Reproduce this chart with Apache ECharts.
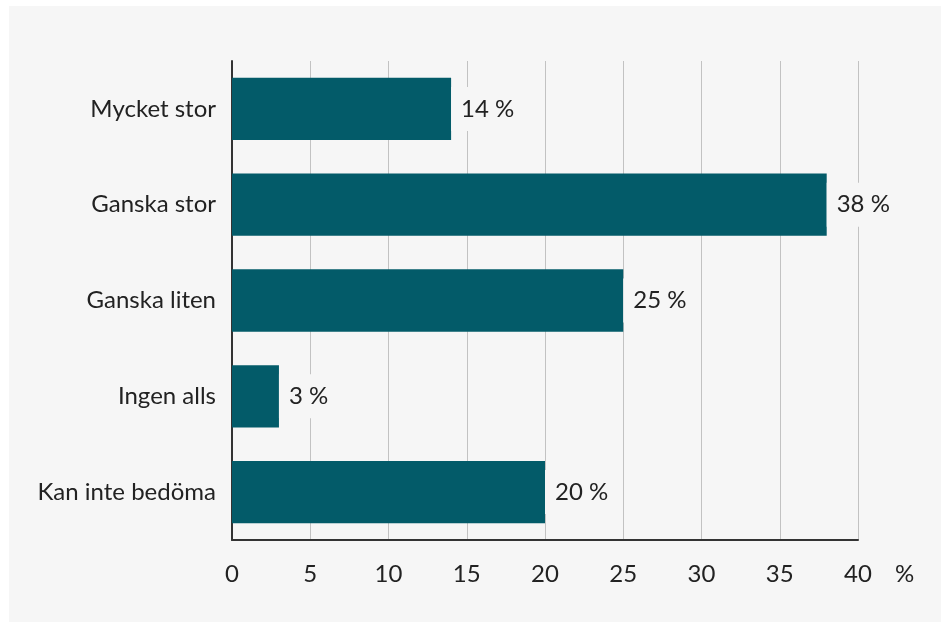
<!DOCTYPE html>
<html>
<head>
<meta charset="utf-8">
<script src="https://cdn.jsdelivr.net/npm/echarts@6/dist/echarts.min.js"></script>
<style>
    html, body { margin: 0; padding: 0; background: #ffffff; }
    #chart {
        position: absolute;
        left: 9px;
        top: 6px;
        width: 932px;
        height: 616px;
        background: #f6f6f6;
    }
</style>
</head>
<body>
<div id="chart"></div>
<script>
const categories = ["Mycket stor", "Ganska stor", "Ganska liten", "Ingen alls", "Kan inte bedöma"];
const shares = [14, 38, 25, 3, 20];
const xTicks = { min: 0, max: 40, step: 5 };

const font = "Lato";
const textColor = "#222222";
const bg = "#f6f6f6";

let chart = echarts.init(document.getElementById("chart"));
let option = {
    backgroundColor: bg,
    textStyle: { fontFamily: font },
    grid: {
        left: 223,
        right: 83,
        top: 55,
        bottom: 82,
    },
    xAxis: {
        type: "value",
        min: xTicks.min,
        max: xTicks.max,
        interval: xTicks.step,
        name: "%",
        nameLocation: "end",
        nameGap: 37,
        nameTextStyle: {
            fontFamily: font,
            fontSize: 24,
            color: textColor,
            align: "left",
            verticalAlign: "top",
            padding: [22, 0, 0, 0],
        },
        axisLine: { show: true, lineStyle: { color: "#333333", width: 2 } },
        axisTick: { show: false },
        axisLabel: {
            fontFamily: font,
            fontSize: 24,
            color: textColor,
            margin: 22,
        },
        splitLine: { show: true, lineStyle: { color: "#c2c2c2", width: 1 } },
    },
    yAxis: {
        type: "category",
        data: categories,
        inverse: true,
        axisLine: { show: true, lineStyle: { color: "#333333", width: 2 } },
        axisTick: { show: false },
        axisLabel: {
            fontFamily: font,
            fontSize: 24,
            color: textColor,
            margin: 16,
        },
        splitLine: { show: false },
    },
    series: [
        {
            type: "bar",
            data: shares,
            barCategoryGap: "35%",
            itemStyle: { color: "#035b69" },
            z: 3,
            label: {
                show: true,
                position: "right",
                distance: 0,
                formatter: "{c} %",
                fontFamily: font,
                fontSize: 24,
                color: textColor,
                backgroundColor: bg,
                padding: [10, 6, 10, 10],
            },
        },
    ],
};
chart.setOption(option);
</script>
</body>
</html>
